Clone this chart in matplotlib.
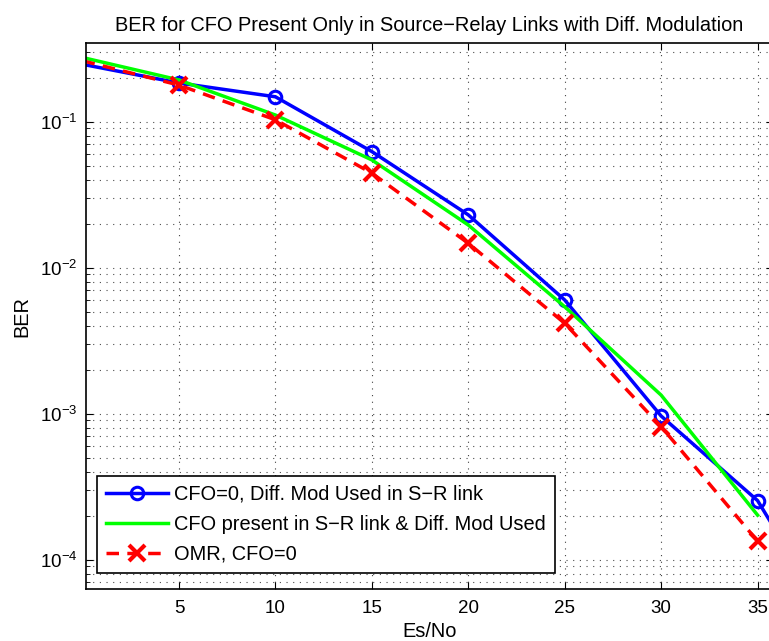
import numpy as np
import matplotlib
matplotlib.use("Agg")
import matplotlib.pyplot as plt

plt.rcParams['font.family'] = ['Liberation Sans', 'DejaVu Sans']
plt.rcParams['mathtext.fontset'] = 'custom'
plt.rcParams['mathtext.rm'] = 'Liberation Sans'

# Es/No (dB) and BER
snr_blue = [0, 5, 10, 15, 20, 25, 30, 35, 40]
ber_blue = [0.247, 0.184, 0.148, 0.0624, 0.0230, 0.00601, 9.64e-4, 2.54e-4, 2.07e-5]

snr_green = [0, 5, 10, 15, 20, 25, 30, 35]
ber_green = [0.275, 0.193, 0.111, 0.0547, 0.0196, 0.0054, 1.34e-3, 2.02e-4]

snr_red = [0, 5, 10, 15, 20, 25, 30, 35]
ber_red = [0.261, 0.178, 0.103, 0.0444, 0.0147, 0.00416, 8.15e-4, 1.34e-4]

labels = ['CFO=0, Diff. Mod Used in S\u2212R link',
          'CFO present in S\u2212R link & Diff. Mod Used',
          'OMR, CFO=0']

fig = plt.figure(figsize=(7.69, 6.41), dpi=100)
ax = fig.add_axes([86/769, 1-589.3/641, 687/769, 546/641])

# matlab drops markers whose centre is outside the axes, so skip the x=0 one
ax.semilogy(snr_blue, ber_blue, '-o', color=(0, 0, 1), lw=2.5, ms=9,
            mfc='none', mew=2.2, markevery=slice(1, None), label=labels[0])
ax.semilogy(snr_green, ber_green, '-', color=(0, 1, 0), lw=2.5, label=labels[1])
ax.semilogy(snr_red, ber_red, '--x', color=(1, 0, 0), lw=2.5, ms=11,
            mew=3, dashes=(3.6, 2.4), markevery=slice(1, None), label=labels[2])

ax.set_xlim(0.18, 35.8)
ax.set_ylim(6.27e-5, 0.344)
ax.set_xticks([5, 10, 15, 20, 25, 30, 35])

ax.grid(True, which='major', axis='x', color='0.25', linestyle=(0, (1, 5)), lw=0.8)
ax.grid(True, which='both', axis='y', color='0.3', linestyle=(0, (1, 5)), lw=0.8)

ax.tick_params(which='both', direction='in', top=True, right=True, labelsize=13.5)
ax.tick_params(which='major', length=5)
ax.tick_params(which='minor', length=3)
ax.tick_params(axis='x', pad=8)
ax.tick_params(axis='y', pad=6)
for s in ax.spines.values():
    s.set_linewidth(1.2)

ax.set_title('BER for CFO Present Only in Source\u2212Relay Links with Diff. Modulation',
             fontsize=14.4, pad=9)
ax.set_xlabel('Es/No', fontsize=14.4, labelpad=3)
ax.set_ylabel('BER', fontsize=14.4, labelpad=6)

leg = ax.legend(loc='lower left', bbox_to_anchor=(0.016, 0.03), fontsize=14.4,
                fancybox=False, framealpha=1, edgecolor='black',
                handlelength=3.1, handletextpad=0.3, labelspacing=0.55,
                borderpad=0.45, borderaxespad=0)
leg.get_frame().set_linewidth(1.2)

fig.savefig('out.png', dpi=100)
